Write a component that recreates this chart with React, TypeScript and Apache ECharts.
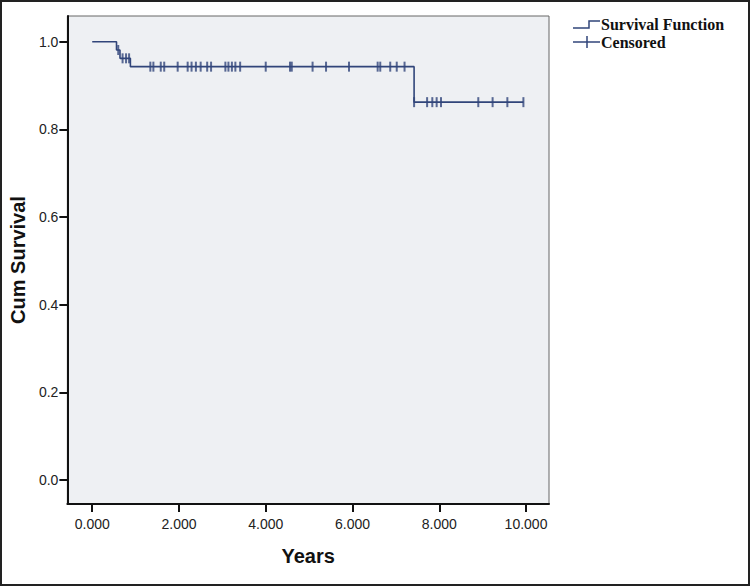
import React, { useEffect, useRef } from "react";
import * as echarts from "echarts";

// Kaplan-Meier steps: [time (years), cumulative survival]
const stepTimes = [0, 0.56, 0.64, 0.88, 7.42, 9.94];
const stepSurvival = [1.0, 0.981, 0.962, 0.943, 0.862, 0.862];

// Censored observations: [time, survival level]
const censorTimes = [
  0.6, 0.7, 0.78, 0.85,
  1.34, 1.41, 1.58, 1.66, 1.97, 2.2, 2.29, 2.39, 2.5, 2.65, 2.74, 3.07, 3.14, 3.22, 3.3, 3.41, 4.0, 4.56, 4.6,
  5.08, 5.39, 5.92, 6.58, 6.64, 6.87, 7.02, 7.2,
  7.42, 7.72, 7.84, 7.94, 8.04, 8.9, 9.23, 9.57, 9.94,
];
const censorSurvival = [
  0.981, 0.962, 0.962, 0.962,
  0.943, 0.943, 0.943, 0.943, 0.943, 0.943, 0.943, 0.943, 0.943, 0.943, 0.943, 0.943, 0.943, 0.943, 0.943, 0.943, 0.943, 0.943, 0.943,
  0.943, 0.943, 0.943, 0.943, 0.943, 0.943, 0.943, 0.943,
  0.862, 0.862, 0.862, 0.862, 0.862, 0.862, 0.862, 0.862, 0.862,
];

const xTicks = [0, 2, 4, 6, 8, 10];
const yTicks = [0, 0.2, 0.4, 0.6, 0.8, 1.0];

const LINE = "#31457a";

export default function App() {
  const ref = useRef<HTMLDivElement>(null);
  useEffect(() => {
    document.body.style.margin = "0";
    const chart = echarts.init(ref.current!, undefined, { renderer: "svg" });
    chart.setOption({
      animation: false,
      backgroundColor: "#ffffff",
      grid: {
        left: 65,
        right: 201,
        top: 16,
        bottom: 82,
        show: true,
        backgroundColor: "#eef0f3",
        borderColor: "#666",
        borderWidth: 1,
      },
      xAxis: {
        type: "value",
        min: -0.573,
        max: 10.53,
        name: "Years",
        nameLocation: "middle",
        nameGap: 42,
        nameTextStyle: { fontFamily: "Liberation Sans", fontWeight: "bold", fontSize: 20, color: "#111" },
        axisLine: { show: true, onZero: false, lineStyle: { color: "#111", width: 2 } },
        axisTick: { show: true, customValues: xTicks, length: 8, lineStyle: { color: "#111", width: 2 } },
        axisLabel: {
          customValues: xTicks,
          formatter: (v: number) => v.toFixed(3),
          fontFamily: "Liberation Sans",
          fontSize: 14,
          color: "#222",
          margin: 13,
        },
        splitLine: { show: false },
      },
      yAxis: {
        type: "value",
        min: -0.055,
        max: 1.0586,
        name: "Cum Survival",
        nameLocation: "middle",
        nameGap: 24,
        nameTextStyle: { fontFamily: "Liberation Sans", fontWeight: "bold", fontSize: 20, color: "#111" },
        axisLine: { show: true, onZero: false, lineStyle: { color: "#111", width: 2 } },
        axisTick: { show: true, customValues: yTicks, length: 8, lineStyle: { color: "#111", width: 2 } },
        axisLabel: {
          customValues: yTicks,
          formatter: (v: number) => v.toFixed(1),
          fontFamily: "Liberation Sans",
          fontSize: 14,
          color: "#222",
          margin: 9,
        },
        splitLine: { show: false },
      },
      series: [
        {
          type: "line",
          step: "end",
          data: stepTimes.map((t, i) => [t, stepSurvival[i]]),
          showSymbol: false,
          lineStyle: { color: LINE, width: 1.6 },
        },
        {
          type: "scatter",
          data: censorTimes.map((t, i) => [t, censorSurvival[i]]),
          symbol: "rect",
          symbolSize: [2, 10],
          itemStyle: { color: LINE },
        },
      ],
      graphic: [
        {
          type: "rect",
          shape: { x: 1, y: 1, width: 748, height: 584 },
          style: { fill: "none", stroke: "#222", lineWidth: 2 },
        },
        {
          type: "polyline",
          shape: { points: [[573, 28], [589, 28], [589, 21], [600, 21]] },
          style: { stroke: LINE, lineWidth: 1.5, fill: "none" },
        },
        {
          type: "text",
          x: 601,
          y: 24,
          style: {
            text: "Survival Function",
            font: "bold 16px 'Liberation Serif'",
            fill: "#111",
            textVerticalAlign: "middle",
          },
        },
        {
          type: "line",
          shape: { x1: 573, y1: 42, x2: 600, y2: 42 },
          style: { stroke: LINE, lineWidth: 1.5 },
        },
        {
          type: "line",
          shape: { x1: 587, y1: 36, x2: 587, y2: 48 },
          style: { stroke: LINE, lineWidth: 1.5 },
        },
        {
          type: "text",
          x: 601,
          y: 42,
          style: {
            text: "Censored",
            font: "bold 16px 'Liberation Serif'",
            fill: "#111",
            textVerticalAlign: "middle",
          },
        },
      ],
    });
    return () => chart.dispose();
  }, []);
  return <div ref={ref} style={{ position: "absolute", left: 0, top: 0, width: 750, height: 586 }} />;
}
